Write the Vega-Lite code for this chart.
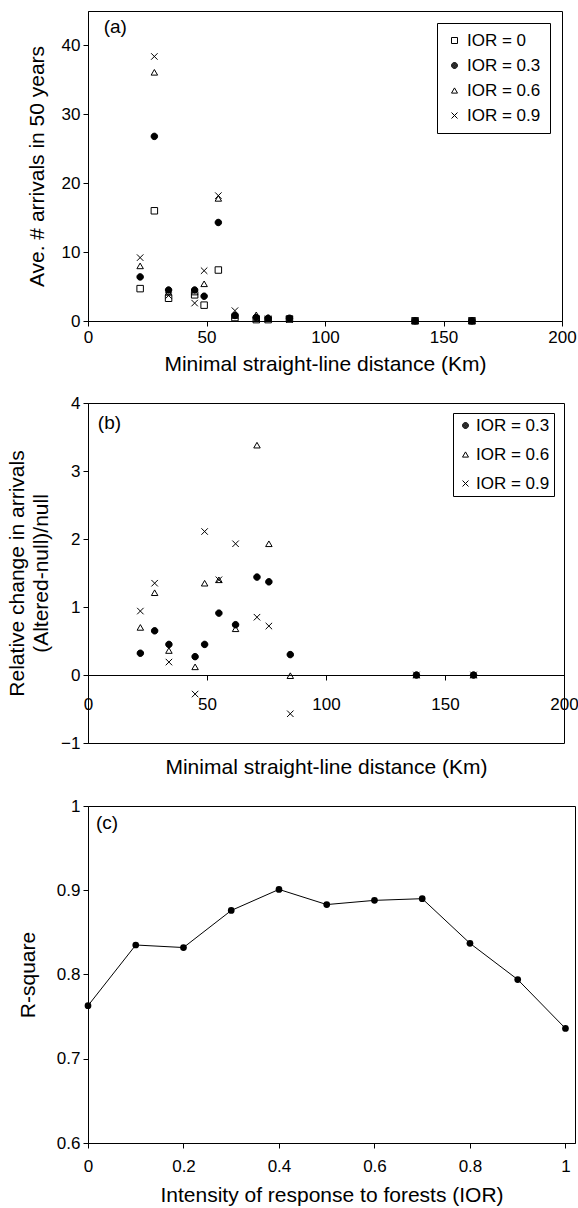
{
  "$schema": "https://vega.github.io/schema/vega-lite/v6.json",
  "padding": {"left": 6, "top": 10, "right": 4, "bottom": 4},
  "spacing": 18,
  "background": "white",
  "config": {
    "font": "Liberation Sans",
    "view": {"stroke": "black", "strokeWidth": 1},
    "axis": {
      "labelFont": "Liberation Sans", "labelFontSize": 17, "labelColor": "black",
      "titleFont": "Liberation Sans", "titleFontSize": 21, "titleFontWeight": "normal", "titleColor": "black",
      "domainColor": "black", "tickColor": "black", "tickSize": 5, "grid": false, "labelPadding": 3, "labelFlush": false, "labelOverlap": false
    },
    "legend": {
      "labelFont": "Liberation Sans", "labelFontSize": 17, "labelColor": "black",
      "strokeColor": "black", "fillColor": "white", "symbolStrokeColor": "black", "symbolStrokeWidth": 1
    }
  },
  "datasets": {
    "arrivals": [
      {"distance": 22, "IOR": "0", "arrivals": 4.7},
      {"distance": 22, "IOR": "0.3", "arrivals": 6.4},
      {"distance": 22, "IOR": "0.6", "arrivals": 8.0},
      {"distance": 22, "IOR": "0.9", "arrivals": 9.2},
      {"distance": 28, "IOR": "0", "arrivals": 16.0},
      {"distance": 28, "IOR": "0.3", "arrivals": 26.8},
      {"distance": 28, "IOR": "0.6", "arrivals": 36.1},
      {"distance": 28, "IOR": "0.9", "arrivals": 38.4},
      {"distance": 34, "IOR": "0", "arrivals": 3.3},
      {"distance": 34, "IOR": "0.3", "arrivals": 4.5},
      {"distance": 34, "IOR": "0.6", "arrivals": 4.2},
      {"distance": 34, "IOR": "0.9", "arrivals": 3.7},
      {"distance": 45, "IOR": "0", "arrivals": 3.8},
      {"distance": 45, "IOR": "0.3", "arrivals": 4.5},
      {"distance": 45, "IOR": "0.6", "arrivals": 4.2},
      {"distance": 45, "IOR": "0.9", "arrivals": 2.6},
      {"distance": 49, "IOR": "0", "arrivals": 2.3},
      {"distance": 49, "IOR": "0.3", "arrivals": 3.6},
      {"distance": 49, "IOR": "0.6", "arrivals": 5.4},
      {"distance": 49, "IOR": "0.9", "arrivals": 7.3},
      {"distance": 55, "IOR": "0", "arrivals": 7.4},
      {"distance": 55, "IOR": "0.3", "arrivals": 14.3},
      {"distance": 55, "IOR": "0.6", "arrivals": 17.8},
      {"distance": 55, "IOR": "0.9", "arrivals": 18.2},
      {"distance": 62, "IOR": "0", "arrivals": 0.5},
      {"distance": 62, "IOR": "0.3", "arrivals": 0.8},
      {"distance": 62, "IOR": "0.6", "arrivals": 0.8},
      {"distance": 62, "IOR": "0.9", "arrivals": 1.5},
      {"distance": 71, "IOR": "0", "arrivals": 0.2},
      {"distance": 71, "IOR": "0.3", "arrivals": 0.5},
      {"distance": 71, "IOR": "0.6", "arrivals": 0.9},
      {"distance": 71, "IOR": "0.9", "arrivals": 0.4},
      {"distance": 76, "IOR": "0", "arrivals": 0.2},
      {"distance": 76, "IOR": "0.3", "arrivals": 0.4},
      {"distance": 76, "IOR": "0.6", "arrivals": 0.5},
      {"distance": 76, "IOR": "0.9", "arrivals": 0.3},
      {"distance": 85, "IOR": "0", "arrivals": 0.3},
      {"distance": 85, "IOR": "0.3", "arrivals": 0.4},
      {"distance": 85, "IOR": "0.6", "arrivals": 0.3},
      {"distance": 85, "IOR": "0.9", "arrivals": 0.2},
      {"distance": 138, "IOR": "0", "arrivals": 0.02},
      {"distance": 138, "IOR": "0.3", "arrivals": 0.02},
      {"distance": 138, "IOR": "0.6", "arrivals": 0.02},
      {"distance": 138, "IOR": "0.9", "arrivals": 0.02},
      {"distance": 162, "IOR": "0", "arrivals": 0.02},
      {"distance": 162, "IOR": "0.3", "arrivals": 0.02},
      {"distance": 162, "IOR": "0.6", "arrivals": 0.02},
      {"distance": 162, "IOR": "0.9", "arrivals": 0.02}
    ],
    "relchange": [
      {"distance": 22, "IOR": "0.3", "change": 0.32},
      {"distance": 22, "IOR": "0.6", "change": 0.70},
      {"distance": 22, "IOR": "0.9", "change": 0.94},
      {"distance": 28, "IOR": "0.3", "change": 0.65},
      {"distance": 28, "IOR": "0.6", "change": 1.21},
      {"distance": 28, "IOR": "0.9", "change": 1.35},
      {"distance": 34, "IOR": "0.3", "change": 0.45},
      {"distance": 34, "IOR": "0.6", "change": 0.36},
      {"distance": 34, "IOR": "0.9", "change": 0.19},
      {"distance": 45, "IOR": "0.3", "change": 0.27},
      {"distance": 45, "IOR": "0.6", "change": 0.12},
      {"distance": 45, "IOR": "0.9", "change": -0.28},
      {"distance": 49, "IOR": "0.3", "change": 0.45},
      {"distance": 49, "IOR": "0.6", "change": 1.35},
      {"distance": 49, "IOR": "0.9", "change": 2.11},
      {"distance": 55, "IOR": "0.3", "change": 0.91},
      {"distance": 55, "IOR": "0.6", "change": 1.40},
      {"distance": 55, "IOR": "0.9", "change": 1.40},
      {"distance": 62, "IOR": "0.3", "change": 0.74},
      {"distance": 62, "IOR": "0.6", "change": 0.68},
      {"distance": 62, "IOR": "0.9", "change": 1.93},
      {"distance": 71, "IOR": "0.3", "change": 1.44},
      {"distance": 71, "IOR": "0.6", "change": 3.38},
      {"distance": 71, "IOR": "0.9", "change": 0.85},
      {"distance": 76, "IOR": "0.3", "change": 1.37},
      {"distance": 76, "IOR": "0.6", "change": 1.93},
      {"distance": 76, "IOR": "0.9", "change": 0.72},
      {"distance": 85, "IOR": "0.3", "change": 0.30},
      {"distance": 85, "IOR": "0.6", "change": -0.01},
      {"distance": 85, "IOR": "0.9", "change": -0.57},
      {"distance": 138, "IOR": "0.3", "change": 0},
      {"distance": 138, "IOR": "0.6", "change": 0},
      {"distance": 138, "IOR": "0.9", "change": 0},
      {"distance": 162, "IOR": "0.3", "change": 0},
      {"distance": 162, "IOR": "0.6", "change": 0},
      {"distance": 162, "IOR": "0.9", "change": 0}
    ],
    "rsq": [
      {"ior": 0.0, "r2": 0.763},
      {"ior": 0.1, "r2": 0.835},
      {"ior": 0.2, "r2": 0.832},
      {"ior": 0.3, "r2": 0.876},
      {"ior": 0.4, "r2": 0.901},
      {"ior": 0.5, "r2": 0.883},
      {"ior": 0.6, "r2": 0.888},
      {"ior": 0.7, "r2": 0.890},
      {"ior": 0.8, "r2": 0.837},
      {"ior": 0.9, "r2": 0.794},
      {"ior": 1.0, "r2": 0.736}
    ]
  },
  "vconcat": [
    {
      "width": 474,
      "height": 310,
      "layer": [
        {
          "data": {"name": "arrivals"},
          "mark": {"type": "point", "filled": true, "stroke": "black", "strokeWidth": 1, "size": 42, "opacity": 1},
          "encoding": {
            "x": {"field": "distance", "type": "quantitative", "scale": {"domain": [0, 200], "nice": false},
                  "axis": {"values": [0, 50, 100, 150, 200], "title": "Minimal straight-line distance (Km)", "titlePadding": 8}},
            "y": {"field": "arrivals", "type": "quantitative", "scale": {"domain": [0, 45], "nice": false},
                  "axis": {"values": [0, 10, 20, 30, 40], "title": "Ave. # arrivals in 50 years", "titlePadding": 14}},
            "shape": {"field": "IOR", "type": "nominal",
                      "scale": {"domain": ["0", "0.3", "0.6", "0.9"], "range": ["square", "M1,0A1,1,0,1,1,-1,0A1,1,0,1,1,1,0M0.8,0A0.8,0.8,0,1,1,-0.8,0A0.8,0.8,0,1,1,0.8,0M0.6,0A0.6,0.6,0,1,1,-0.6,0A0.6,0.6,0,1,1,0.6,0M0.4,0A0.4,0.4,0,1,1,-0.4,0A0.4,0.4,0,1,1,0.4,0M0.2,0A0.2,0.2,0,1,1,-0.2,0A0.2,0.2,0,1,1,0.2,0", "triangle-up", "M-1,-1L1,1M1,-1L-1,1"]},
                      "legend": {"orient": "top-right", "offset": 12, "title": null, "padding": 9, "rowPadding": 7, "symbolSize": 36, "labelExpr": "'IOR = ' + datum.label",
                                 "encode": {"symbols": {
                                   "stroke": {"value": "black"},
                                   "fill": {"condition": {"test": "datum.value === '0.3'", "value": "black"}, "value": "transparent"}}}}},
            "fill": {"condition": {"test": "datum.IOR === '0.3'", "value": "black"}, "value": "transparent"}
          }
        },
        {
          "data": {"values": [{"label": "(a)"}]},
          "mark": {"type": "text", "fontSize": 19, "font": "Liberation Sans", "color": "black"},
          "encoding": {"x": {"datum": 11.5}, "y": {"datum": 42.7}, "text": {"field": "label"}}
        }
      ]
    },
    {
      "width": 476,
      "height": 340,
      "layer": [
        {
          "data": {"name": "relchange"},
          "mark": {"type": "point", "filled": true, "stroke": "black", "strokeWidth": 1, "size": 42, "opacity": 1},
          "encoding": {
            "x": {"field": "distance", "type": "quantitative", "scale": {"domain": [0, 200], "nice": false},
                  "axis": {"values": [0, 50, 100, 150, 200], "title": "Minimal straight-line distance (Km)", "offset": -68, "labelPadding": 16, "titlePadding": 44}},
            "y": {"field": "change", "type": "quantitative", "scale": {"domain": [-1, 4], "nice": false},
                  "axis": {"values": [-1, 0, 1, 2, 3, 4], "format": "~g", "title": ["Relative change in arrivals", "(Altered-null)/null"], "titleLineHeight": 24, "titlePadding": 9}},
            "shape": {"field": "IOR", "type": "nominal",
                      "scale": {"domain": ["0.3", "0.6", "0.9"], "range": ["M1,0A1,1,0,1,1,-1,0A1,1,0,1,1,1,0M0.8,0A0.8,0.8,0,1,1,-0.8,0A0.8,0.8,0,1,1,0.8,0M0.6,0A0.6,0.6,0,1,1,-0.6,0A0.6,0.6,0,1,1,0.6,0M0.4,0A0.4,0.4,0,1,1,-0.4,0A0.4,0.4,0,1,1,0.4,0M0.2,0A0.2,0.2,0,1,1,-0.2,0A0.2,0.2,0,1,1,0.2,0", "triangle-up", "M-1,-1L1,1M1,-1L-1,1"]},
                      "legend": {"orient": "top-right", "offset": 10, "title": null, "padding": 4, "rowPadding": 11, "symbolSize": 36, "labelOffset": 2, "labelExpr": "'IOR = ' + datum.label",
                                 "encode": {"symbols": {
                                   "stroke": {"value": "black"},
                                   "fill": {"condition": {"test": "datum.value === '0.3'", "value": "black"}, "value": "transparent"}}}}},
            "fill": {"condition": {"test": "datum.IOR === '0.3'", "value": "black"}, "value": "transparent"}
          }
        },
        {
          "data": {"values": [{"label": "(b)"}]},
          "mark": {"type": "text", "fontSize": 19, "font": "Liberation Sans", "color": "black"},
          "encoding": {"x": {"datum": 9}, "y": {"datum": 3.7}, "text": {"field": "label"}}
        }
      ]
    },
    {
      "width": 487,
      "height": 337,
      "layer": [
        {
          "data": {"name": "rsq"},
          "mark": {"type": "line", "color": "black", "strokeWidth": 1, "point": {"filled": true, "color": "black", "size": 45}},
          "encoding": {
            "x": {"field": "ior", "type": "quantitative", "scale": {"domain": [0, 1.02], "nice": false},
                  "axis": {"values": [0, 0.2, 0.4, 0.6, 0.8, 1], "format": "~g", "title": "Intensity of response to forests (IOR)", "labelPadding": 10, "titlePadding": 10}},
            "y": {"field": "r2", "type": "quantitative", "scale": {"domain": [0.6, 1], "nice": false, "zero": false},
                  "axis": {"values": [0.6, 0.7, 0.8, 0.9, 1], "format": "~g", "title": "R-square", "titlePadding": 18}}
          }
        },
        {
          "data": {"values": [{"label": "(c)"}]},
          "mark": {"type": "text", "fontSize": 19, "font": "Liberation Sans", "color": "black"},
          "encoding": {"x": {"datum": 0.04}, "y": {"datum": 0.98}, "text": {"field": "label"}}
        }
      ]
    }
  ],
  "resolve": {
    "scale": {"x": "independent", "y": "independent", "shape": "independent"},
    "legend": {"shape": "independent"}
  }
}
